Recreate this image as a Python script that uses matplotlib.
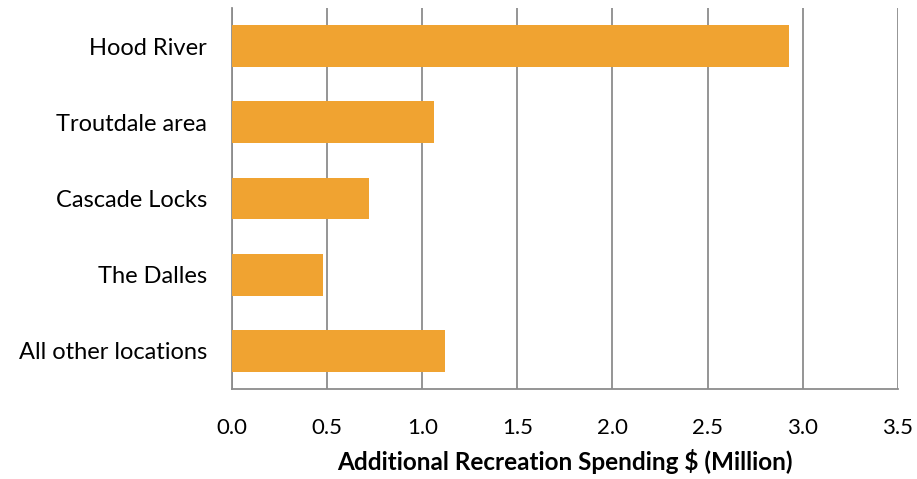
import matplotlib
matplotlib.use("Agg")
from matplotlib import pyplot as plt

# Data
locations = ['Hood River', 'Troutdale area', 'Cascade Locks', 'The Dalles', 'All other locations']
spending = [2.93, 1.06, 0.72, 0.48, 1.12]
xticks = [0.0, 0.5, 1.0, 1.5, 2.0, 2.5, 3.0, 3.5]

plt.rcParams['font.family'] = ['Lato', 'DejaVu Sans']

fig = plt.figure(figsize=(9.17, 4.79), dpi=100)
ax = fig.add_axes([0.253, 0.188, 0.726, 0.795])

ypos = list(range(len(locations)))
ax.barh(ypos, spending, height=0.55, color='#F0A331', zorder=3)
ax.set_yticks(ypos)
ax.set_yticklabels(locations, fontsize=17)
ax.set_ylim(len(locations) - 0.5, -0.5)

ax.set_xlim(0, 3.5)
ax.set_xticks(xticks)
ax.set_xticklabels(['%.1f' % t for t in xticks], fontsize=16)
ax.grid(axis='x', color='#8c8c8c', linewidth=1.3, zorder=0)
ax.tick_params(axis='x', length=0, pad=21)
ax.tick_params(axis='y', length=0, pad=18)

for side in ['top', 'right']:
    ax.spines[side].set_visible(False)
for side in ['left', 'bottom']:
    ax.spines[side].set_color('#8c8c8c')
    ax.spines[side].set_linewidth(1.3)

ax.set_xlabel('Additional Recreation Spending $ (Million)', fontsize=17.5,
              fontweight='bold', labelpad=8)

fig.savefig('out.png', dpi=100)
